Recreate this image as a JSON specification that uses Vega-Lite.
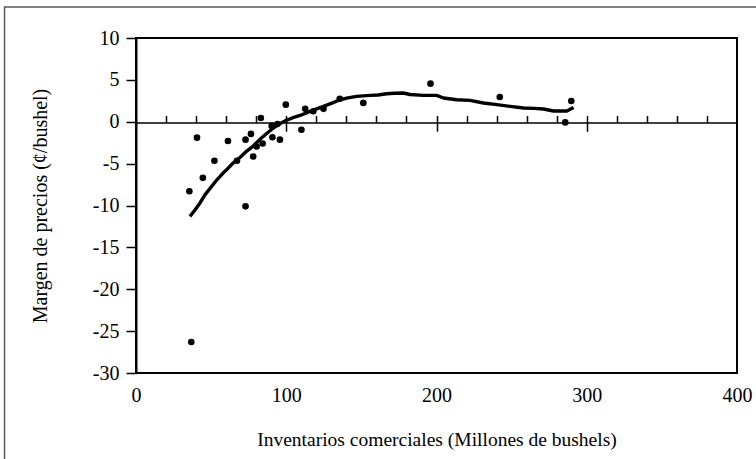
{
  "$schema": "https://vega.github.io/schema/vega-lite/v6.json",
  "width": 601,
  "height": 335,
  "autosize": {"type": "none"},
  "padding": {"left": 136, "top": 38, "right": 19, "bottom": 86},
  "background": "white",
  "config": {
    "view": {"stroke": "black", "strokeWidth": 2},
    "font": "Liberation Serif",
    "axis": {"labelFont": "Liberation Serif", "titleFont": "Liberation Serif", "labelColor": "black", "titleColor": "black", "titleFontWeight": "normal", "grid": false}
  },
  "datasets": {
    "marco": [{"nombre": "marco"}],
    "puntos": [
      {"inventario": 35.5, "margen": -8.3},
      {"inventario": 36.8, "margen": -26.3},
      {"inventario": 40.6, "margen": -1.9},
      {"inventario": 44.5, "margen": -6.7},
      {"inventario": 52.2, "margen": -4.65},
      {"inventario": 61.2, "margen": -2.3},
      {"inventario": 67.2, "margen": -4.65},
      {"inventario": 72.9, "margen": -10.1},
      {"inventario": 72.9, "margen": -2.14},
      {"inventario": 76.5, "margen": -1.45},
      {"inventario": 78.0, "margen": -4.15},
      {"inventario": 80.3, "margen": -2.95},
      {"inventario": 83.1, "margen": 0.45},
      {"inventario": 84.3, "margen": -2.6},
      {"inventario": 90.8, "margen": -1.85},
      {"inventario": 90.3, "margen": -0.5},
      {"inventario": 94.1, "margen": -0.27},
      {"inventario": 95.8, "margen": -2.14},
      {"inventario": 99.7, "margen": 2.04},
      {"inventario": 110.1, "margen": -0.95},
      {"inventario": 112.6, "margen": 1.54},
      {"inventario": 118.0, "margen": 1.25},
      {"inventario": 124.8, "margen": 1.54},
      {"inventario": 135.6, "margen": 2.75},
      {"inventario": 151.3, "margen": 2.25},
      {"inventario": 196.0, "margen": 4.55},
      {"inventario": 242.1, "margen": 2.95},
      {"inventario": 289.7, "margen": 2.48},
      {"inventario": 285.7, "margen": -0.08}
    ],
    "curva": [
      {"inventario": 35.9, "margen": -11.3},
      {"inventario": 39.0, "margen": -10.6},
      {"inventario": 42.6, "margen": -9.7},
      {"inventario": 46.0, "margen": -8.7},
      {"inventario": 50.4, "margen": -7.7},
      {"inventario": 54.0, "margen": -6.9},
      {"inventario": 58.1, "margen": -6.1},
      {"inventario": 61.0, "margen": -5.6},
      {"inventario": 64.8, "margen": -4.9},
      {"inventario": 69.0, "margen": -4.3},
      {"inventario": 73.7, "margen": -3.5},
      {"inventario": 78.0, "margen": -2.9},
      {"inventario": 82.5, "margen": -2.1},
      {"inventario": 87.0, "margen": -1.4},
      {"inventario": 91.4, "margen": -0.75},
      {"inventario": 95.0, "margen": -0.3},
      {"inventario": 99.2, "margen": 0.1},
      {"inventario": 104.0, "margen": 0.45},
      {"inventario": 109.2, "margen": 0.75},
      {"inventario": 115.8, "margen": 1.24},
      {"inventario": 124.7, "margen": 1.83},
      {"inventario": 130.0, "margen": 2.2},
      {"inventario": 135.8, "margen": 2.63},
      {"inventario": 141.0, "margen": 2.85},
      {"inventario": 146.9, "margen": 3.03},
      {"inventario": 155.8, "margen": 3.15},
      {"inventario": 161.0, "margen": 3.2},
      {"inventario": 166.9, "margen": 3.35},
      {"inventario": 172.0, "margen": 3.4},
      {"inventario": 177.9, "margen": 3.43},
      {"inventario": 182.4, "margen": 3.25},
      {"inventario": 191.3, "margen": 3.15},
      {"inventario": 200.1, "margen": 3.15},
      {"inventario": 204.6, "margen": 2.84},
      {"inventario": 213.5, "margen": 2.63},
      {"inventario": 222.3, "margen": 2.55},
      {"inventario": 231.2, "margen": 2.24},
      {"inventario": 240.1, "margen": 2.04},
      {"inventario": 249.0, "margen": 1.83},
      {"inventario": 257.9, "margen": 1.64},
      {"inventario": 265.0, "margen": 1.6},
      {"inventario": 271.2, "margen": 1.52},
      {"inventario": 277.9, "margen": 1.28},
      {"inventario": 286.8, "margen": 1.28},
      {"inventario": 291.2, "margen": 1.7}
    ]
  },
  "layer": [
    {
      "data": {"name": "marco"},
      "mark": {"type": "rect", "clip": false, "fill": "transparent", "stroke": "#5a5a5a", "strokeWidth": 1.5},
      "encoding": {
        "x": {"datum": -87.5, "type": "quantitative", "scale": {"domain": [0, 400]},
          "axis": {"orient": "bottom", "offset": -251.25, "values": [100, 200, 300], "tickSize": 9.5, "tickWidth": 1.5, "tickColor": "black", "domain": false, "labels": false, "title": null}},
        "x2": {"datum": 430},
        "y": {"datum": 13.7, "type": "quantitative", "scale": {"domain": [-30, 10]}, "axis": null},
        "y2": {"datum": -45}
      }
    },
    {
      "data": {"name": "curva"},
      "mark": {"type": "line", "color": "black", "strokeWidth": 3.4, "strokeJoin": "round", "strokeCap": "butt"},
      "encoding": {
        "x": {"field": "inventario", "type": "quantitative", "scale": {"domain": [0, 400]},
          "axis": {"orient": "top", "offset": -84.5, "values": [20, 40, 60, 80, 100, 120, 140, 160, 180, 200, 220, 240, 260, 280, 300, 320, 340, 360, 380], "tickSize": 7, "tickWidth": 1.5, "tickColor": "black", "domain": true, "domainColor": "black", "domainWidth": 1.5, "labels": false, "title": null}},
        "y": {"field": "margen", "type": "quantitative", "scale": {"domain": [-30, 10]}, "axis": null}
      }
    },
    {
      "data": {"name": "puntos"},
      "mark": {"type": "circle", "color": "black", "opacity": 1, "size": 44},
      "encoding": {
        "x": {"field": "inventario", "type": "quantitative", "scale": {"domain": [0, 400]},
          "axis": {"orient": "bottom", "values": [0, 100, 200, 300, 400], "domain": false, "ticks": false, "labelPadding": 12, "labelFontSize": 20, "labelFlush": false, "title": "Inventarios comerciales (Millones de bushels)", "titleFontSize": 19.5, "titlePadding": 25}},
        "y": {"field": "margen", "type": "quantitative", "scale": {"domain": [-30, 10]},
          "axis": {"orient": "left", "values": [-30, -25, -20, -15, -10, -5, 0, 5, 10], "labelExpr": "toString(datum.value)", "domain": true, "domainColor": "black", "domainWidth": 2, "tickSize": 10, "tickWidth": 1.5, "tickColor": "black", "labelPadding": 7, "labelFontSize": 20, "labelFlush": false, "title": "Margen de precios (¢/bushel)", "titleFontSize": 20, "titlePadding": 42}}
      }
    }
  ],
  "resolve": {"axis": {"x": "independent", "y": "independent"}}
}
